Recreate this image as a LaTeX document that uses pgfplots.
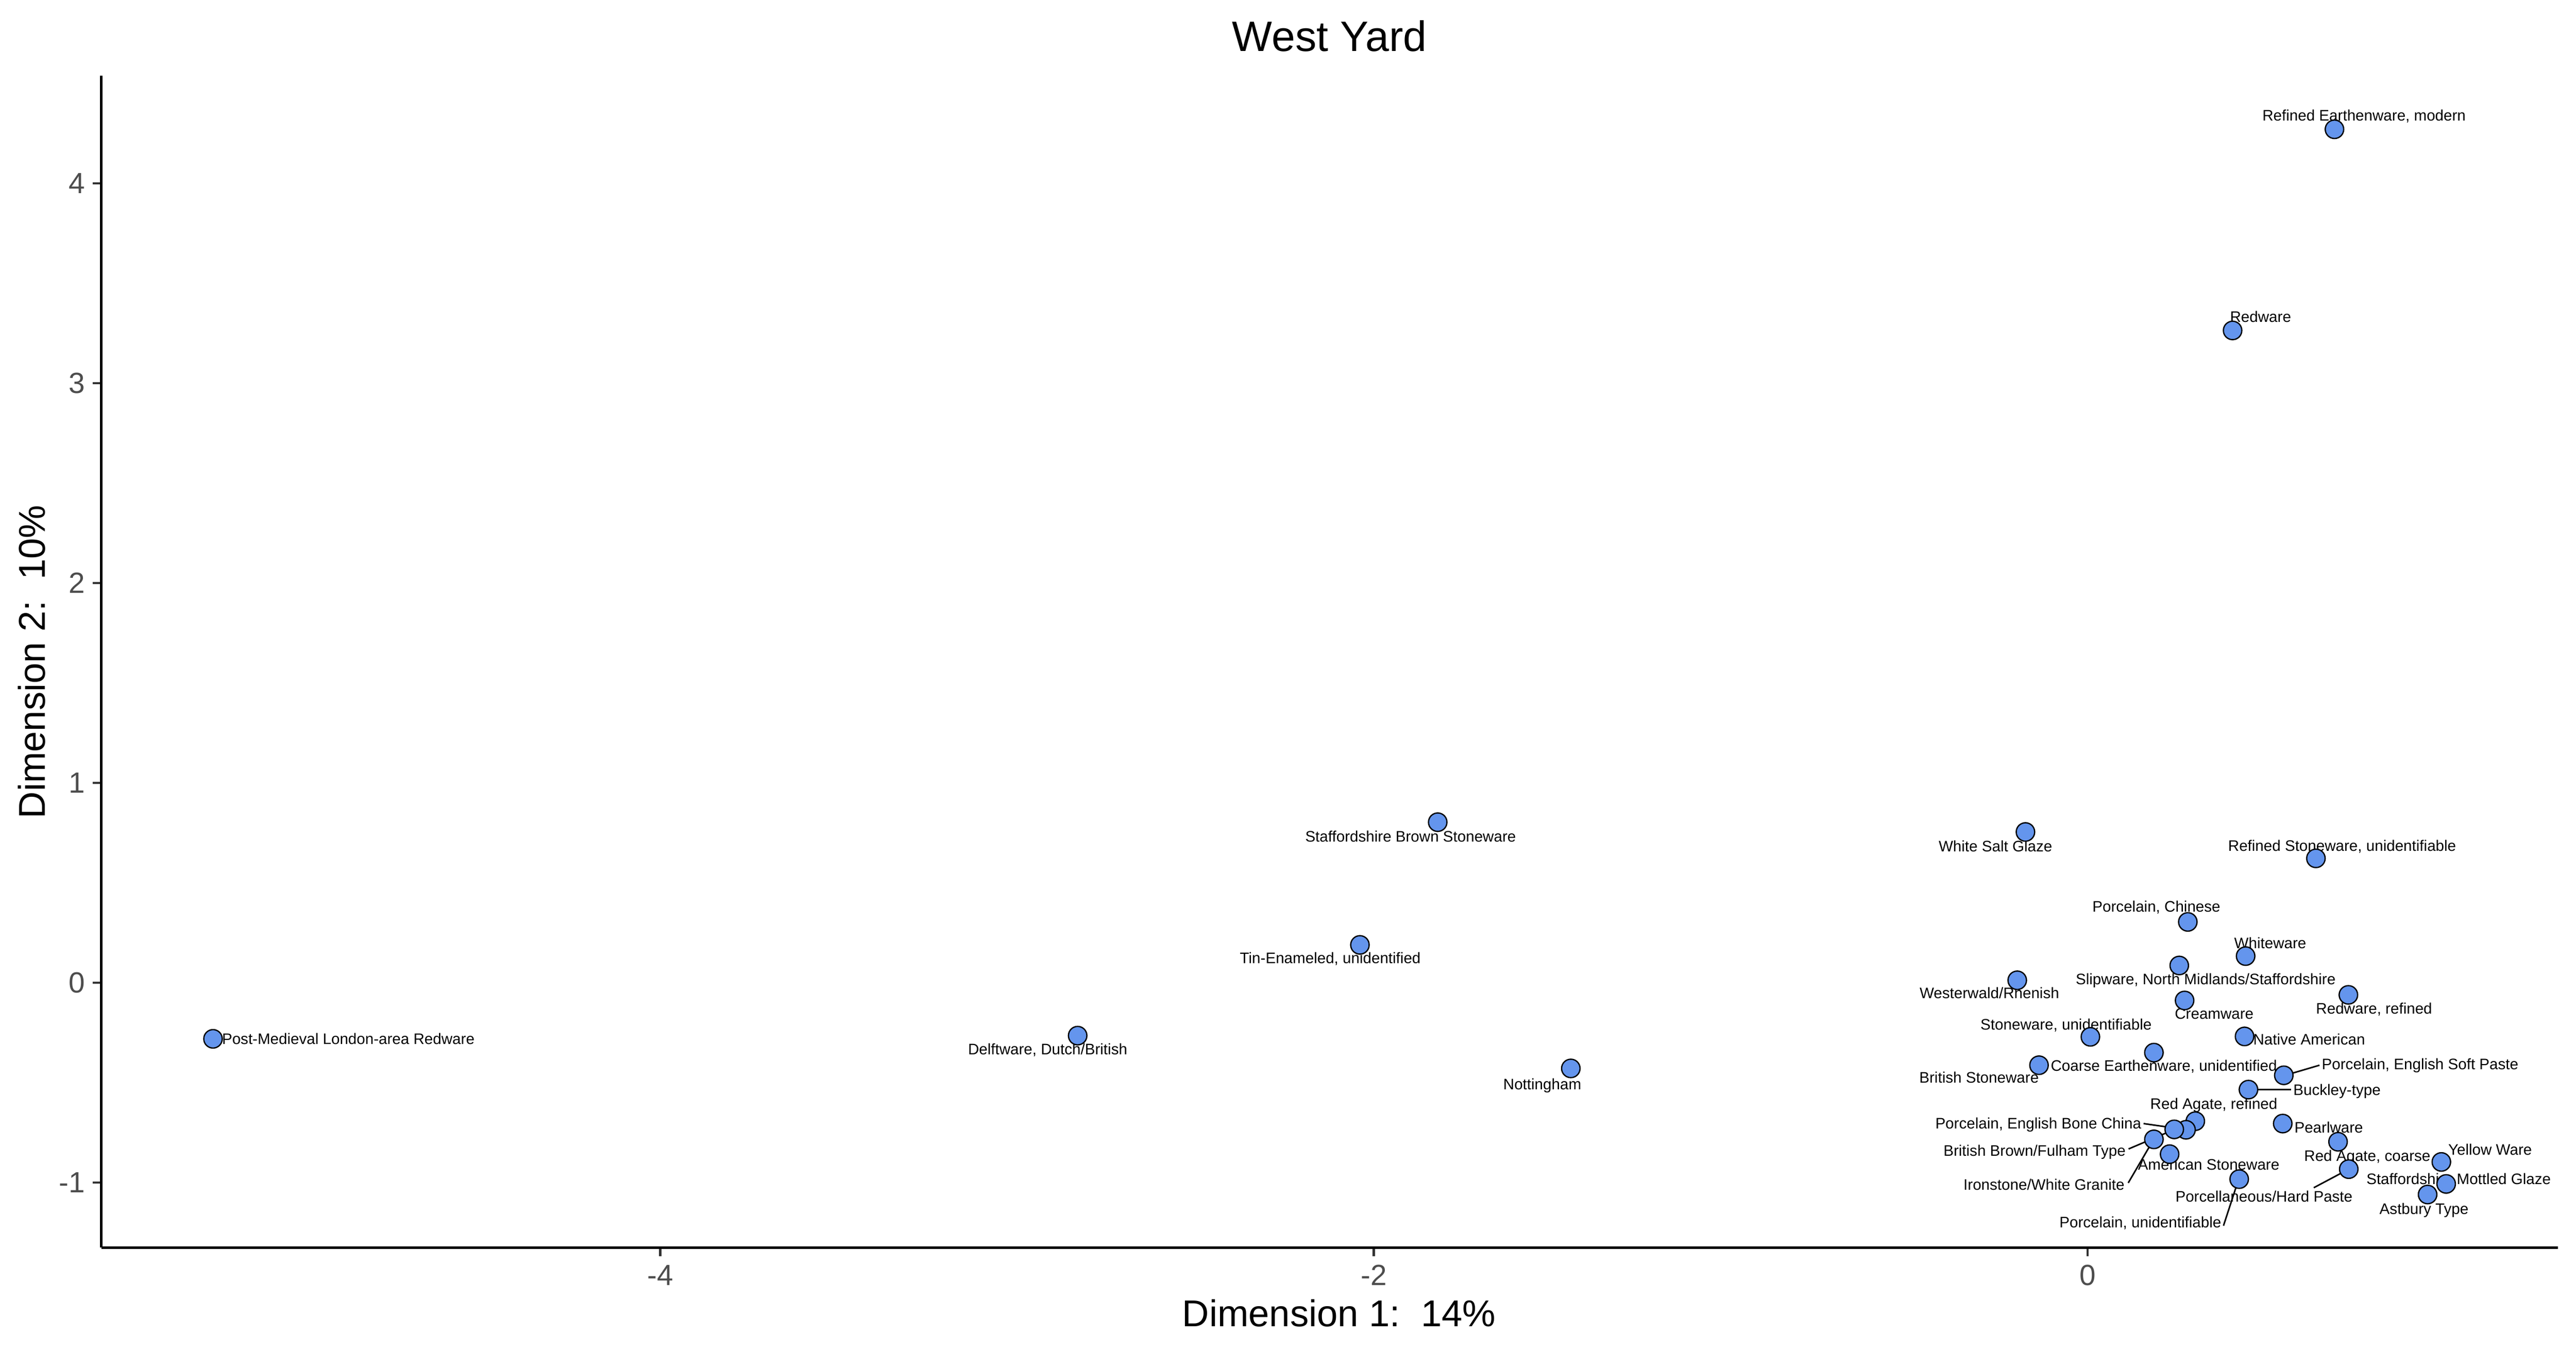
\documentclass[border=0pt]{standalone}
\usepackage{fontspec}
\setmainfont{Liberation Sans}
\usepackage{pgfplots}
\usepackage{pgfplotstable}
\pgfplotsset{compat=1.18}
\definecolor{ptfill}{HTML}{6495ED}
\definecolor{tickcol}{HTML}{333333}
\definecolor{ticklab}{HTML}{4D4D4D}
\tikzset{lbl/.style={font=\fontsize{3.55}{4}\selectfont, inner sep=0pt, anchor=base, text=black}}

\pgfplotstableread{
x y
-5.253 -0.281
-2.830 -0.265
-2.039 0.189
-1.821 0.803
-1.448 -0.429
-0.174 0.754
-0.197 0.012
-0.136 -0.413
0.008 -0.271
0.186 -0.350
0.281 0.304
0.257 0.086
0.272 -0.089
0.443 0.133
0.440 -0.269
0.731 -0.061
0.640 0.622
0.692 4.270
0.4065 3.2635
0.550 -0.4635
0.451 -0.535
0.547 -0.705
0.302 -0.693
0.276 -0.736
0.243 -0.734
0.186 -0.784
0.230 -0.858
0.702 -0.796
0.732 -0.933
0.425 -0.983
0.9915 -0.897
1.005 -1.007
0.953 -1.060
}\pts

\begin{document}
\begin{tikzpicture}
\useasboundingbox (-23.6pt,-24.3pt) rectangle (576.4pt,290.7pt);
\begin{axis}[
  scale only axis, width=572.17pt, height=273pt,
  xmin=-5.566, xmax=1.318, ymin=-1.326, ymax=4.537,
  axis lines*=left,
  axis line style={line width=0.65pt, black, -},
  clip=false,
  xtick={-4,-2,0}, xticklabels={-4,-2,0},
  ytick={-1,0,1,2,3,4}, yticklabels={-1,0,1,2,3,4},
  tick align=outside, major tick length=2pt,
  tick style={tickcol, line width=0.55pt},
  xticklabel style={font=\fontsize{6.8}{8}\selectfont, text=ticklab, anchor=base, inner sep=0pt, yshift=-6.8pt},
  yticklabel style={font=\fontsize{6.8}{8}\selectfont, text=ticklab, anchor=east, inner sep=0pt, xshift=-1.6pt},
]
\addplot[only marks, mark=*, mark size=2.15pt, mark options={fill=ptfill, draw=black, line width=0.3pt}] table[x=x, y=y] {\pts};

% leader segments
\addplot[black, line width=0.35pt] coordinates {(0.157,-0.705) (0.278,-0.736)};
\addplot[black, line width=0.35pt] coordinates {(0.115,-0.832) (0.244,-0.734)};
\addplot[black, line width=0.35pt] coordinates {(0.114,-1.002) (0.186,-0.782)};
\addplot[black, line width=0.35pt] coordinates {(0.634,-1.026) (0.733,-0.932)};
\addplot[black, line width=0.35pt] coordinates {(0.381,-1.216) (0.4235,-0.983)};
\addplot[black, line width=0.35pt] coordinates {(0.551,-0.465) (0.650,-0.413)};
\addplot[black, line width=0.35pt] coordinates {(0.451,-0.535) (0.570,-0.535)};

% labels
\node[lbl] at (axis cs:0.775,4.313) {Refined Earthenware, modern};
\node[lbl] at (axis cs:0.485,3.304) {Redware};
\node[lbl] at (axis cs:-1.897,0.704) {Staffordshire Brown Stoneware};
\node[lbl] at (axis cs:-0.258,0.656) {White Salt Glaze};
\node[lbl] at (axis cs:0.7135,0.657) {Refined Stoneware, unidentifiable};
\node[lbl] at (axis cs:0.193,0.355) {Porcelain, Chinese};
\node[lbl] at (axis cs:-2.122,0.097) {Tin-Enameled, unidentified};
\node[lbl] at (axis cs:0.512,0.171) {Whiteware};
\node[lbl] at (axis cs:0.331,-0.010) {Slipware, North Midlands/Staffordshire};
\node[lbl] at (axis cs:-0.275,-0.079) {Westerwald/Rhenish};
\node[lbl] at (axis cs:0.803,-0.156) {Redware, refined};
\node[lbl] at (axis cs:0.355,-0.183) {Creamware};
\node[lbl] at (axis cs:-0.060,-0.235) {Stoneware, unidentifiable};
\node[lbl] at (axis cs:0.621,-0.312) {Native American};
\node[lbl, anchor=base west] at (axis cs:-5.230,-0.308) {Post-Medieval London-area Redware};
\node[lbl] at (axis cs:-2.914,-0.359) {Delftware, Dutch/British};
\node[lbl] at (axis cs:0.214,-0.441) {Coarse Earthenware, unidentified};
\node[lbl] at (axis cs:0.932,-0.435) {Porcelain, English Soft Paste};
\node[lbl] at (axis cs:-0.304,-0.501) {British Stoneware};
\node[lbl] at (axis cs:-1.528,-0.534) {Nottingham};
\node[lbl] at (axis cs:0.699,-0.563) {Buckley-type};
\node[lbl] at (axis cs:0.354,-0.634) {Red Agate, refined};
\node[lbl] at (axis cs:-0.138,-0.732) {Porcelain, English Bone China};
\node[lbl] at (axis cs:0.676,-0.751) {Pearlware};
\node[lbl] at (axis cs:-0.1485,-0.868) {British Brown/Fulham Type};
\node[lbl] at (axis cs:1.128,-0.863) {Yellow Ware};
\node[lbl] at (axis cs:0.784,-0.894) {Red Agate, coarse};
\node[lbl] at (axis cs:0.3395,-0.938) {American Stoneware};
\node[lbl] at (axis cs:1.040,-1.009) {Staffordshire Mottled Glaze};
\node[lbl] at (axis cs:-0.122,-1.038) {Ironstone/White Granite};
\node[lbl] at (axis cs:0.4945,-1.098) {Porcellaneous/Hard Paste};
\node[lbl] at (axis cs:0.943,-1.1585) {Astbury Type};
\node[lbl] at (axis cs:0.148,-1.226) {Porcelain, unidentifiable};

% title and axis titles
\node[font=\fontsize{9.9}{12}\selectfont, anchor=base, inner sep=0pt] at ([yshift=5.8pt]rel axis cs:0.5,1) {West Yard};
\node[font=\fontsize{8.7}{10}\selectfont, anchor=base, inner sep=0pt] at ([xshift=2.2pt, yshift=-18.4pt]rel axis cs:0.5,0) {Dimension 1:\ \ 14\%};
\node[font=\fontsize{8.7}{10}\selectfont, anchor=base, inner sep=0pt, rotate=90] at ([xshift=-13.14pt]rel axis cs:0,0.5) {Dimension 2:\ \ 10\%};
\end{axis}
\end{tikzpicture}
\end{document}
